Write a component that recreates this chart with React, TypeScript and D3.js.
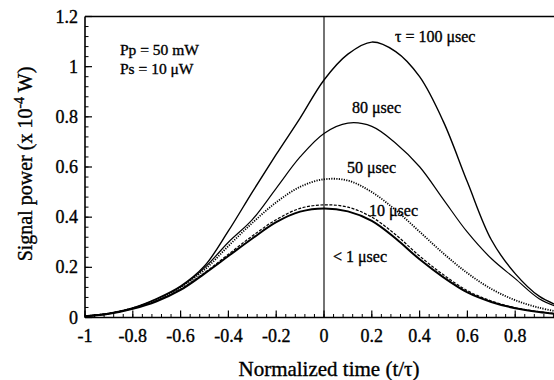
import React from "react";
import * as d3 from "d3";

// Normalized time grid (t/τ)
const times = [-1, -0.9, -0.8, -0.7, -0.6, -0.5, -0.4, -0.3, -0.2, -0.1, 0, 0.1, 0.2, 0.3, 0.4, 0.5, 0.6, 0.7, 0.8, 0.9, 1.0];

// Signal power (x 1e-4 W) for each pulse width τ
const tau100 = [0.005, 0.016, 0.038, 0.075, 0.125, 0.205, 0.345, 0.5, 0.65, 0.795, 0.947, 1.05, 1.098, 1.06, 0.96, 0.78, 0.54, 0.31, 0.175, 0.085, 0.04];
const tau80 = [0.005, 0.016, 0.037, 0.073, 0.122, 0.198, 0.3, 0.39, 0.515, 0.64, 0.734, 0.775, 0.762, 0.695, 0.601, 0.47, 0.34, 0.235, 0.155, 0.075, 0.035];
const tau50 = [0.005, 0.016, 0.037, 0.071, 0.12, 0.19, 0.285, 0.377, 0.459, 0.521, 0.551, 0.546, 0.5, 0.428, 0.342, 0.255, 0.177, 0.114, 0.069, 0.039, 0.02];
const tau10 = [0.005, 0.015, 0.036, 0.067, 0.113, 0.178, 0.252, 0.325, 0.39, 0.435, 0.449, 0.44, 0.4, 0.33, 0.245, 0.17, 0.107, 0.066, 0.039, 0.023, 0.013];
const tau1 = [0.005, 0.015, 0.035, 0.065, 0.11, 0.175, 0.245, 0.315, 0.38, 0.422, 0.435, 0.423, 0.385, 0.315, 0.232, 0.16, 0.1, 0.062, 0.037, 0.022, 0.012];

const xTickValues = [-1, -0.8, -0.6, -0.4, -0.2, 0, 0.2, 0.4, 0.6, 0.8];
const xTickLabels = ["-1", "-0.8", "-0.6", "-0.4", "-0.2", "0", "0.2", "0.4", "0.6", "0.8"];
const yTickValues = [0, 0.2, 0.4, 0.6, 0.8, 1, 1.2];
const yTickLabels = ["0", "0.2", "0.4", "0.6", "0.8", "1", "1.2"];

const W = 554;
const H = 380;
const FONT = "Liberation Serif";

export default function App() {
  const x = d3.scaleLinear().domain([-1, 1]).range([85, 563]);
  const y = d3.scaleLinear().domain([0, 1.2]).range([317.5, 16.5]);

  const line = d3
    .line<number>()
    .x((_, i) => x(times[i]))
    .y((d) => y(d))
    .curve(d3.curveCatmullRom.alpha(0.5));

  const series = [
    { data: tau100, width: 1.4, dash: undefined as string | undefined },
    { data: tau80, width: 1.2, dash: undefined },
    { data: tau50, width: 1.8, dash: "1.2,1.3" },
    { data: tau10, width: 1.2, dash: "3,1.5" },
    { data: tau1, width: 2.0, dash: undefined },
  ];

  const minorX = d3.range(-1, 1.0001, 0.04).map((v) => +v.toFixed(2));
  const minorY = d3.range(0, 1.2001, 0.04).map((v) => +v.toFixed(2));

  const x0 = x(-1);
  const yBot = y(0);
  const yTop = y(1.2);
  const ts = { fontFamily: FONT, stroke: "#000", strokeWidth: 0.35 };

  return (
    <svg
      width={W}
      height={H}
      style={{ position: "absolute", left: 0, top: 0, background: "#fff", fontFamily: FONT }}
    >
      <rect x={0} y={0} width={W} height={H} fill="#fff" />
      {/* frame */}
      <line x1={x0} x2={W} y1={yTop} y2={yTop} stroke="#000" strokeWidth={1.6} />
      <line x1={x0} x2={W} y1={yBot} y2={yBot} stroke="#000" strokeWidth={1.6} />
      <line x1={x0} x2={x0} y1={yTop} y2={yBot} stroke="#000" strokeWidth={1.6} />
      {/* t = 0 vertical line */}
      <line x1={x(0)} x2={x(0)} y1={yTop} y2={yBot} stroke="#000" strokeWidth={1.1} />

      {/* x ticks */}
      {minorX.map((v, i) => (
        <line key={"mx" + i} x1={x(v)} x2={x(v)} y1={yBot} y2={yBot - 3.5} stroke="#000" strokeWidth={1} />
      ))}
      {xTickValues.map((v, i) => (
        <g key={"x" + i}>
          <line x1={x(v)} x2={x(v)} y1={yBot} y2={yBot - 7} stroke="#000" strokeWidth={1.2} />
          <text x={x(v)} y={341.5} textAnchor="middle" fontSize={18} style={ts}>
            {xTickLabels[i]}
          </text>
        </g>
      ))}

      {/* y ticks */}
      {minorY.map((v, i) => (
        <line key={"my" + i} x1={x0} x2={x0 + 3.5} y1={y(v)} y2={y(v)} stroke="#000" strokeWidth={1} />
      ))}
      {yTickValues.map((v, i) => (
        <g key={"y" + i}>
          <line x1={x0} x2={x0 + 7} y1={y(v)} y2={y(v)} stroke="#000" strokeWidth={1.2} />
          <text x={78} y={y(v) + 6} textAnchor="end" fontSize={18} style={ts}>
            {yTickLabels[i]}
          </text>
        </g>
      ))}

      {/* curves */}
      {series.map((s, i) => (
        <path
          key={"s" + i}
          d={line(s.data) || ""}
          fill="none"
          stroke="#000"
          strokeWidth={s.width}
          strokeDasharray={s.dash}
        />
      ))}

      {/* annotations */}
      <text x={120} y={55} fontSize={15.5} style={ts}>Pp = 50 mW</text>
      <text x={120} y={74} fontSize={15.5} style={ts}>Ps = 10 μW</text>
      <text x={395} y={42} fontSize={16} style={ts}>τ = 100 μsec</text>
      <text x={352} y={113} fontSize={16} style={ts}>80 μsec</text>
      <text x={347} y={173} fontSize={16} style={ts}>50 μsec</text>
      <text x={369} y={216} fontSize={16} style={ts}>10 μsec</text>
      <text x={333} y={262} fontSize={16} style={ts}>&lt; 1 μsec</text>

      {/* axis titles */}
      <text x={329} y={376} textAnchor="middle" fontSize={21} style={ts}>
        Normalized time (t/τ)
      </text>
      <text
        transform="translate(32,164) rotate(-90)"
        textAnchor="middle"
        fontSize={20}
        style={ts}
      >
        Signal power (x 10
        <tspan dy={-8} fontSize={14}>-4</tspan>
        <tspan dy={8}> W)</tspan>
      </text>
    </svg>
  );
}
